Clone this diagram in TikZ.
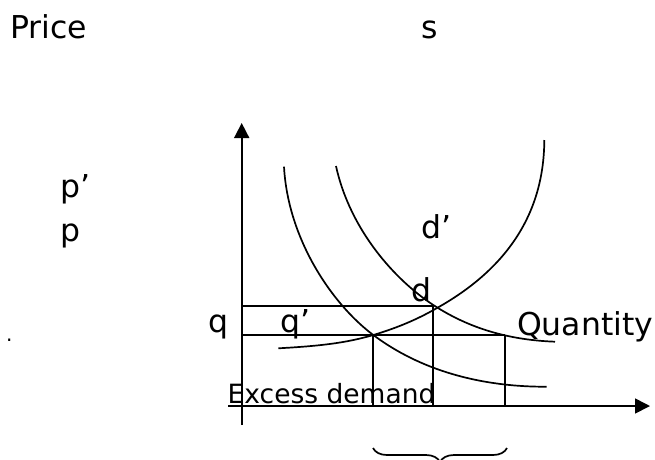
\documentclass[tikz,border=0pt]{standalone}
\usepackage{fontspec}
\setmainfont{DejaVu Sans}
\usetikzlibrary{arrows.meta,decorations.pathreplacing}
\tikzset{
  lbl/.style={inner sep=0pt,anchor=base west,font=\fontsize{31.5}{36}\selectfont},
  smalllbl/.style={lbl,font=\fontsize{26.5}{30}\selectfont},
  axis/.style={line width=1.7pt,-{Triangle[length=15pt,width=15pt]}},
  guide/.style={line width=1.7pt},
  curve/.style={line width=1.7pt},
}
\begin{document}
\begin{tikzpicture}[x=1pt,y=-1pt]
  \useasboundingbox (0,0) rectangle (655,459);
  % axes
  \coordinate (ybot) at (241.7,425);
  \coordinate (ytop) at (241.7,123);
  \coordinate (xleft) at (228,406);
  \coordinate (xright) at (650,406);
  \draw[axis] (ybot) -- (ytop);
  \draw[axis] (xleft) -- (xright);
  % equilibrium points and guide lines
  \coordinate (e1) at (373.3,335);
  \coordinate (e2) at (433,306);
  \coordinate (e3) at (505,335);
  \coordinate (pe1) at (241.7,335);
  \coordinate (pe2) at (241.7,306);
  \draw[guide] (pe2) -- (e2);
  \draw[guide] (pe1) -- (e3);
  \draw[guide] (e1) -- (e1 |- xleft);
  \draw[guide] (e2) -- (e2 |- xleft);
  \draw[guide] (e3) -- (e3 |- xleft);
  % supply s
  \draw[curve] (278.3,348.3) .. controls (320,346) and (346,343) .. (e1)
    .. controls (400,327) and (420,318) .. (439.3,306.7)
    .. controls (500,272) and (544,220) .. (544.3,140);
  % demand d
  \draw[curve] (284,166.7) .. controls (288,240) and (333,305) .. (e1)
    .. controls (420,370) and (480,387) .. (546.7,386.7);
  % demand d'
  \draw[curve] (336,166) .. controls (350,230) and (395,280) .. (433.3,305)
    .. controls (470,329) and (510,340) .. (555,341.7);
  % brace under the gap
  \coordinate (br1) at (507,448);
  \coordinate (br2) at (373,448);
  \draw[line width=1.7pt,decorate,decoration={brace,amplitude=14pt}] (br1) -- (br2);
  % labels
  \node[lbl] (price) at (10,38) {Price};
  \node[lbl] (s) at (421,38) {s};
  \node[lbl] (pp) at (60,197) {p’};
  \node[lbl] (p) at (60,241) {p};
  \node[lbl] (dd) at (421,238) {d’};
  \node[lbl] (d) at (411,301.7) {d};
  \node[lbl] (q) at (208,332) {q};
  \node[lbl] (qq) at (280,332) {q’};
  \node[lbl] (quantity) at (517,335) {Quantity};
  \node[smalllbl] (excess) at (227.5,403.5) {Excess demand};
  \node[lbl,font=\fontsize{20}{24}\selectfont] (dot) at (6,341) {.};
\end{tikzpicture}
\end{document}
